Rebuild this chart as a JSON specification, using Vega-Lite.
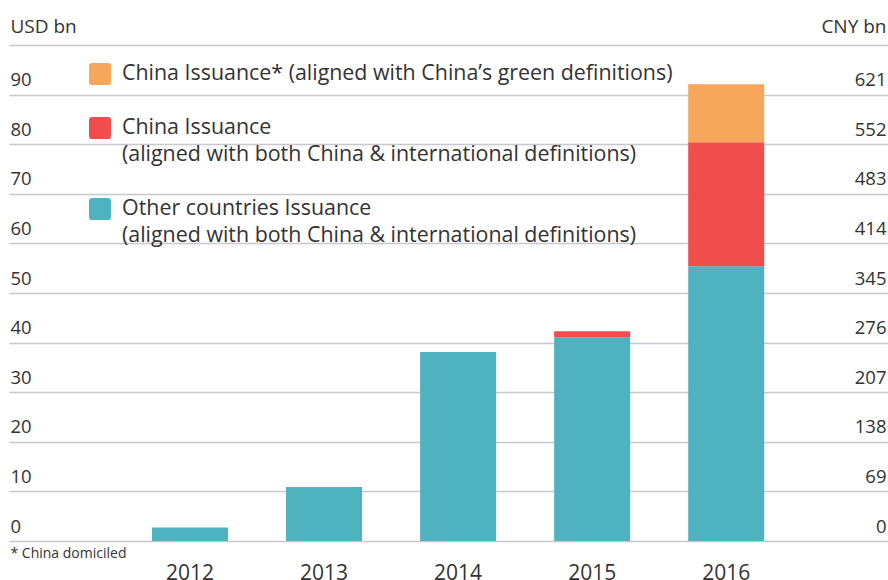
{
  "$schema": "https://vega.github.io/schema/vega-lite/v6.json",
  "autosize": "none",
  "width": 879,
  "height": 496,
  "padding": {"left": 9, "top": 45, "right": 0, "bottom": 39},
  "background": "white",
  "config": {
    "view": {"stroke": null},
    "font": "Open Sans",
    "axis": {"labelColor": "#333333", "titleColor": "#333333", "labelFont": "Open Sans", "titleFont": "Open Sans", "titleFontWeight": "normal"},
    "legend": {"labelColor": "#333333", "labelFont": "Open Sans"},
    "style": {"guide-label": {"lineHeight": 27}}
  },
  "data": {
    "values": [
      {"year": "2012", "series": "Other countries (both definitions)", "value": 2.7},
      {"year": "2013", "series": "Other countries (both definitions)", "value": 10.9},
      {"year": "2014", "series": "Other countries (both definitions)", "value": 38.1},
      {"year": "2015", "series": "Other countries (both definitions)", "value": 41.1},
      {"year": "2015", "series": "China (both definitions)", "value": 1.2},
      {"year": "2016", "series": "Other countries (both definitions)", "value": 55.4},
      {"year": "2016", "series": "China (both definitions)", "value": 25.0},
      {"year": "2016", "series": "China (China definitions)", "value": 11.7}
    ]
  },
  "layer": [
    {
      "mark": {"type": "bar"},
      "encoding": {
        "x": {
          "field": "year", "type": "nominal",
          "scale": {"paddingInner": 0.433, "paddingOuter": 0.995, "align": 0.536},
          "axis": {
            "labelAngle": 0, "labelFontSize": 21, "labelPadding": 21, "labelBaseline": "top",
            "ticks": false, "tickSize": 0, "domain": false, "grid": false,
            "title": "* China domiciled", "titleFontSize": 14, "titleX": 1, "titleY": 16,
            "titleAlign": "left", "titleBaseline": "alphabetic", "titleAnchor": "start"
          }
        },
        "y": {
          "field": "value", "type": "quantitative", "stack": "zero",
          "scale": {"domain": [0, 100], "nice": false},
          "axis": {
            "values": [0, 10, 20, 30, 40, 50, 60, 70, 80, 90, 100],
            "labelExpr": "datum.value == 100 ? '' : datum.label",
            "orient": "left", "domain": false, "ticks": false, "tickSize": 0,
            "labelAlign": "left", "labelPadding": -1, "labelBaseline": "alphabetic", "labelOffset": -9,
            "labelFontSize": 18.5,
            "grid": true, "gridColor": "#c8c8ce", "gridWidth": 1.5,
            "title": "USD bn", "titleAngle": 0, "titleAlign": "left", "titleBaseline": "alphabetic",
            "titleX": 1, "titleY": -13, "titleFontSize": 19
          }
        },
        "color": {
          "field": "series", "type": "nominal",
          "scale": {
            "domain": ["China (China definitions)", "China (both definitions)", "Other countries (both definitions)"],
            "range": ["#F7A75C", "#EF4E4C", "#4EB3BF"]
          },
          "legend": {
            "orient": "none", "legendX": 80, "legendY": 18, "padding": 0,
            "title": null, "direction": "vertical",
            "symbolType": "M-0.72,-1 L0.72,-1 Q1,-1 1,-0.72 L1,0.72 Q1,1 0.72,1 L-0.72,1 Q-1,1 -1,0.72 L-1,-0.72 Q-1,-1 -0.72,-1 Z",
            "symbolSize": 484, "symbolStrokeWidth": 0, "symbolOpacity": 1,
            "labelFontSize": 21.4, "labelOffset": 11, "labelLimit": 800, "rowPadding": 32,
            "labelBaseline": "middle",
            "labelExpr": "datum.label == 'China (China definitions)' ? ['China Issuance* (aligned with China’s green definitions)'] : datum.label == 'China (both definitions)' ? ['China Issuance', '(aligned with both China & international definitions)'] : ['Other countries Issuance', '(aligned with both China & international definitions)']"
          }
        },
        "order": {"field": "series", "sort": "descending"}
      }
    },
    {
      "mark": {"type": "bar", "opacity": 0},
      "encoding": {
        "x": {"field": "year", "type": "nominal"},
        "y": {
          "field": "value", "type": "quantitative", "stack": "zero",
          "axis": {
            "values": [0, 10, 20, 30, 40, 50, 60, 70, 80, 90, 100],
            "labelExpr": "datum.value == 100 ? '' : format(datum.value * 6.9, 'd')",
            "orient": "right", "domain": false, "ticks": false, "tickSize": 0,
            "labelAlign": "right", "labelPadding": -2, "labelBaseline": "alphabetic", "labelOffset": -9,
            "labelFontSize": 18.5, "grid": false,
            "title": "CNY bn", "titleAngle": 0, "titleAlign": "right", "titleBaseline": "alphabetic",
            "titleX": -2, "titleY": -13, "titleFontSize": 19
          }
        }
      }
    }
  ],
  "resolve": {"axis": {"y": "independent"}}
}
